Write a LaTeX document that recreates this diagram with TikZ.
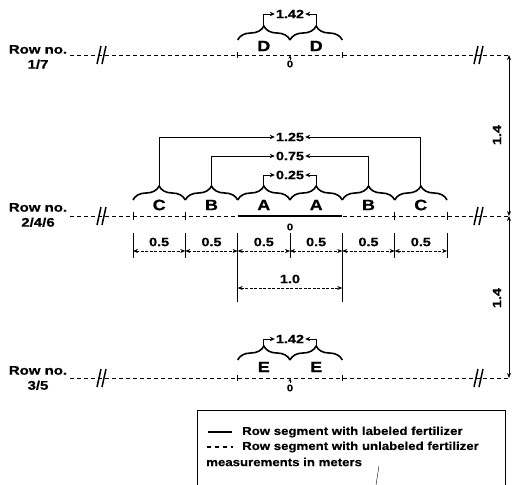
\documentclass[tikz,border=0pt]{standalone}
\usepackage{fontspec}
\setmainfont[FakeStretch=1.2,FakeBold=0.6]{Liberation Sans}
\newfontfamily\legfont[FakeStretch=1.15,FakeBold=0.6]{Liberation Sans}
\usetikzlibrary{decorations.pathreplacing,arrows.meta}
\begin{document}
\begin{tikzpicture}[x=1pt,y=-1pt,
  rowline/.style={dash pattern=on 4pt off 3pt, line width=1pt},
  brc/.style={decorate, decoration={brace, amplitude=14pt}, line width=1.6pt},
  lbl/.style={font=\bfseries\fontsize{12}{14}\selectfont, inner sep=1pt},
  rlbl/.style={font=\bfseries\fontsize{12.5}{15}\selectfont, inner sep=1pt, align=center},
  leg/.style={font=\legfont\bfseries\fontsize{11.5}{14}\selectfont, inner sep=1pt, anchor=west},
  big/.style={font=\bfseries\fontsize{15}{16}\selectfont, inner sep=0pt},
  zero/.style={font=\bfseries\fontsize{9.5}{10}\selectfont, inner sep=0pt},
  conn/.style={line width=1pt, -{Stealth[length=5pt,width=4.5pt]}},
  dimln/.style={line width=0.6pt, dash pattern=on 3pt off 1.5pt, {Stealth[length=5pt,width=4pt]}-{Stealth[length=5pt,width=4pt]}},
  vdim/.style={line width=1pt, {Stealth[length=5pt,width=4pt]}-{Stealth[length=5pt,width=4pt]}},
  ext/.style={line width=1pt},
  brk/.style={line width=1.5pt},
]
\useasboundingbox (0,0) rectangle (515,485);
\def\pa{133}\def\pb{185.3}\def\pc{237.7}\def\pd{290}\def\pe{342.3}\def\pf{394.7}\def\pg{447}

% ---------- Row 1/7 ----------
\node[rlbl] (r1) at (38,57) {Row no.\\1/7};
\coordinate (r1s) at (70,55); \coordinate (r1e) at (509,55);
\draw[rowline] (r1s) -- (r1e);
\draw[brk] (101,46) -- (97,64); \draw[brk] (106,46) -- (102,64);
\draw[brk] (478,46) -- (474,64); \draw[brk] (483,46) -- (479,64);
\draw[ext] (\pc,52) -- (\pc,58); \draw[ext] (\pe,52) -- (\pe,58);
\draw[brc] (\pc,40) -- (\pd,40);
\draw[brc] (\pd,40) -- (\pe,40);
\coordinate (d1t) at (263.8,26); \coordinate (d2t) at (316.2,26);
\node[big] (d1) at (263.8,46) {D};
\node[big] (d2) at (316.2,46) {D};
\node[lbl] (l142a) at (\pd,14) {1.42};
\draw[conn] (d1t) |- (l142a.west);
\draw[conn] (d2t) |- (l142a.east);
\draw[line width=0.8pt,-{Stealth[length=3pt,width=3pt]}] (\pd,60) -- (\pd,55.5);
\node[zero] (z1) at (\pd,64) {0};

% ---------- Row 2/4/6 ----------
\node[rlbl] (r2) at (38,215) {Row no.\\2/4/6};
\coordinate (r2s) at (70,216); \coordinate (r2e) at (509,216);
\draw[rowline] (r2s) -- (r2e);
\draw[line width=2.6pt] (\pc,216) -- (\pe,216);
\draw[brk] (101,207) -- (97,225); \draw[brk] (106,207) -- (102,225);
\draw[brk] (478,207) -- (474,225); \draw[brk] (483,207) -- (479,225);
\foreach \p in {\pa,\pb,\pf,\pg} \draw[ext] (\p,212) -- (\p,220);
\draw[brc] (\pa,200) -- (\pb,200);
\draw[brc] (\pb,200) -- (\pc,200);
\draw[brc] (\pc,200) -- (\pd,200);
\draw[brc] (\pd,200) -- (\pe,200);
\draw[brc] (\pe,200) -- (\pf,200);
\draw[brc] (\pf,200) -- (\pg,200);
\node[big] (c1) at (159.2,205) {C};
\node[big] (b1) at (211.5,205) {B};
\node[big] (a1) at (263.8,205) {A};
\node[big] (a2) at (316.2,205) {A};
\node[big] (b2) at (368.5,205) {B};
\node[big] (c2) at (420.8,205) {C};
\coordinate (c1t) at (159.2,186); \coordinate (c2t) at (420.8,186);
\coordinate (b1t) at (211.5,186); \coordinate (b2t) at (368.5,186);
\coordinate (a1t) at (263.8,186); \coordinate (a2t) at (316.2,186);
\node[lbl] (l125) at (\pd,137) {1.25};
\node[lbl] (l075) at (\pd,156) {0.75};
\node[lbl] (l025) at (\pd,175) {0.25};
\draw[conn] (c1t) |- (l125.west); \draw[conn] (c2t) |- (l125.east);
\draw[conn] (b1t) |- (l075.west); \draw[conn] (b2t) |- (l075.east);
\draw[conn] (a1t) |- (l025.west); \draw[conn] (a2t) |- (l025.east);
\node[zero] (z2) at (\pd,227) {0};

% dimension row
\foreach \p in {\pa,\pb,\pd,\pf,\pg} \draw[ext] (\p,233) -- (\p,258);
\draw[ext] (\pc,233) -- (\pc,302);
\draw[ext] (\pe,233) -- (\pe,302);
\foreach \u/\v in {\pa/\pb,\pb/\pc,\pc/\pd,\pd/\pe,\pe/\pf,\pf/\pg}{
  \draw[dimln] (\u,251) -- (\v,251);
  \node[lbl] at ({(\u+\v)/2},242) {0.5};
}
\draw[dimln] (\pc,288) -- (\pe,288);
\node[lbl] (l10) at (\pd,279) {1.0};

% ---------- Row 3/5 ----------
\node[rlbl] (r3) at (38,378) {Row no.\\3/5};
\coordinate (r3s) at (70,378); \coordinate (r3e) at (509,378);
\draw[rowline] (r3s) -- (r3e);
\draw[brk] (101,369) -- (97,387); \draw[brk] (106,369) -- (102,387);
\draw[brk] (478,369) -- (474,387); \draw[brk] (483,369) -- (479,387);
\draw[ext] (\pc,375) -- (\pc,381); \draw[ext] (\pe,375) -- (\pe,381);
\draw[brc] (\pc,360) -- (\pd,360);
\draw[brc] (\pd,360) -- (\pe,360);
\coordinate (e1t) at (263.8,346); \coordinate (e2t) at (316.2,346);
\node[big] (e1) at (263.8,367) {E};
\node[big] (e2) at (316.2,367) {E};
\node[lbl] (l142b) at (\pd,339) {1.42};
\draw[conn] (e1t) |- (l142b.west);
\draw[conn] (e2t) |- (l142b.east);
\draw[line width=0.8pt,-{Stealth[length=3pt,width=3pt]}] (\pd,383) -- (\pd,378.5);
\node[zero] (z3) at (\pd,388) {0};

% ---------- right vertical dimension ----------
\draw[vdim] (r1e) -- (r2e);
\draw[vdim] (r2e) -- (r3e);
\node[lbl, rotate=90] (v1) at (497,135) {1.4};
\node[lbl, rotate=90] (v2) at (497,298) {1.4};

% ---------- legend ----------
\draw[line width=1pt] (197,485) -- (197,410) -- (505,410) -- (505,485);
\coordinate (ls1) at (208,432); \coordinate (le1) at (232,432);
\draw[line width=1.8pt] (ls1) -- (le1);
\node[leg] (t1) at (241,432) {Row segment with labeled fertilizer};
\coordinate (ls2) at (207,447); \coordinate (le2) at (233,447);
\draw[line width=1.2pt, dash pattern=on 4pt off 4pt] (ls2) -- (le2);
\node[leg] (t2) at (241,447) {Row segment with unlabeled fertilizer};
\node[leg] (t3) at (205,462) {measurements in meters};
\draw[line width=0.4pt] (379,466) -- (376,485);
\end{tikzpicture}
\end{document}
